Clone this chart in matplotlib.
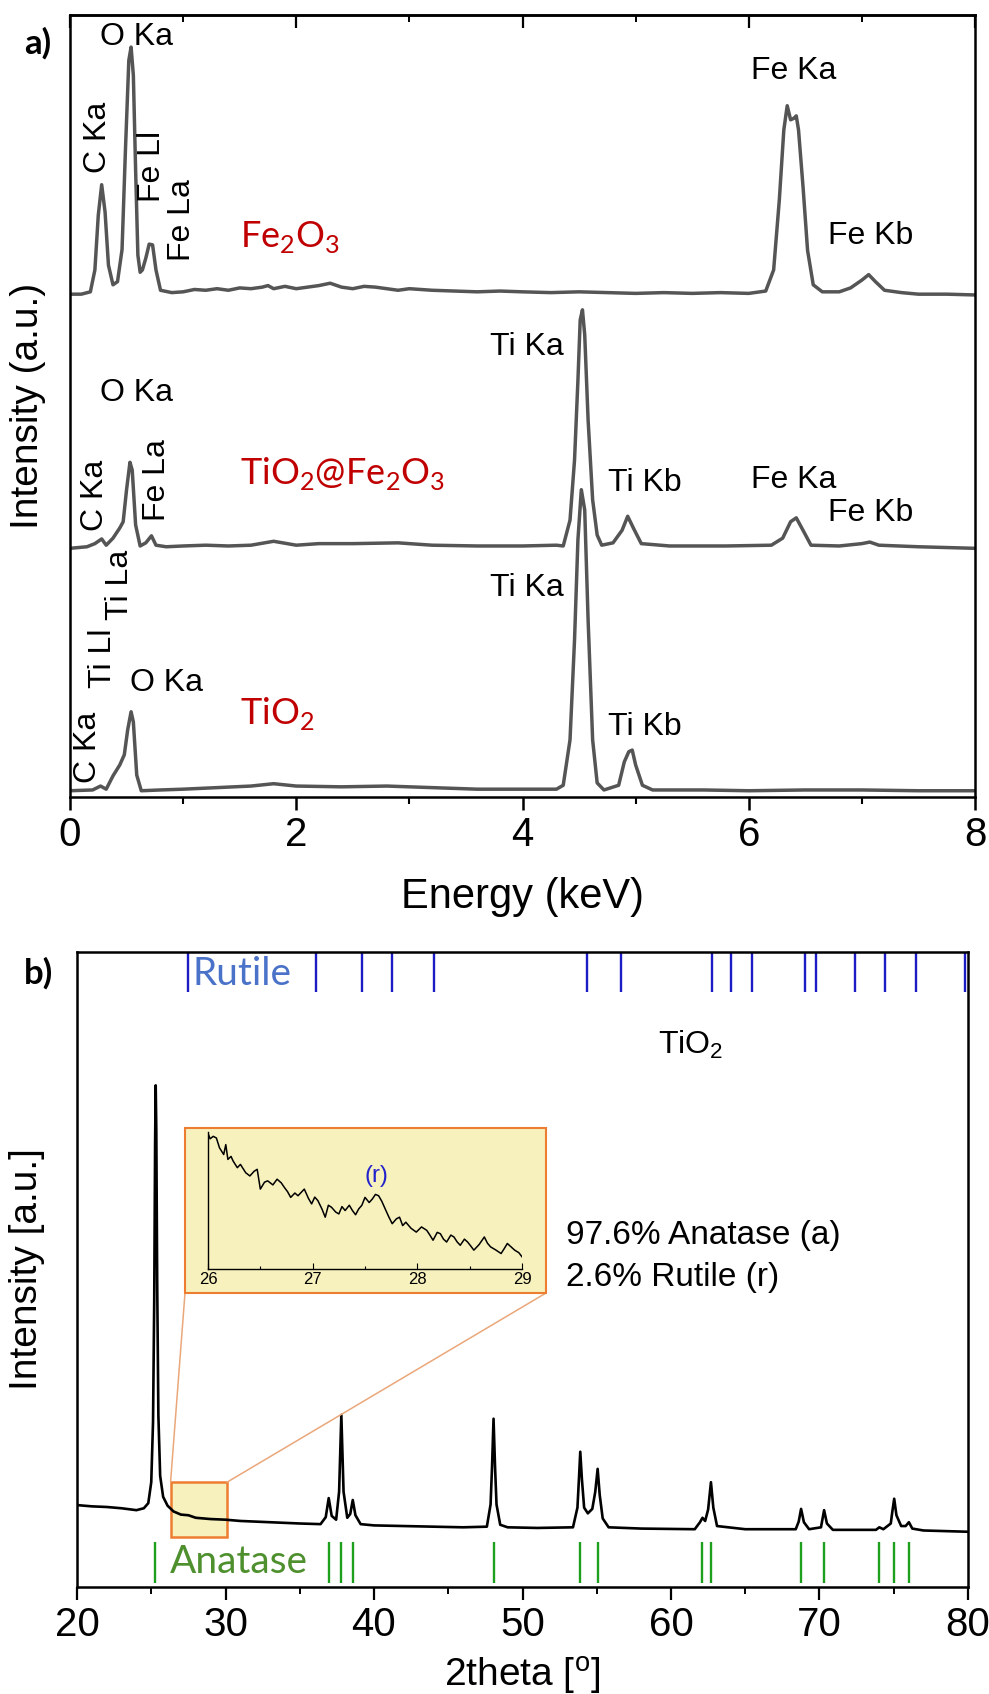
import matplotlib
matplotlib.use('Agg')
import matplotlib.pyplot as plt
from matplotlib.patches import Rectangle, ConnectionPatch
from matplotlib.ticker import MultipleLocator

# ---------------- data : EDS spectra (panel a) ----------------
e_fe2o3 = [0.00, 0.10, 0.18, 0.22, 0.25, 0.28, 0.31, 0.34, 0.38, 0.42, 0.46, 0.49, 0.52, 0.54,
           0.56, 0.58, 0.60, 0.62, 0.64, 0.67, 0.70, 0.73, 0.76, 0.80, 0.90, 1.00, 1.10, 1.20,
           1.30, 1.40, 1.50, 1.60, 1.70, 1.75, 1.80, 1.90, 2.00, 2.10, 2.20, 2.30, 2.40, 2.50,
           2.60, 2.70, 2.80, 2.90, 3.00, 3.20, 3.40, 3.60, 3.80, 4.00, 4.25, 4.50, 4.75, 5.00,
           5.25, 5.50, 5.75, 6.00, 6.15, 6.22, 6.27, 6.31, 6.34, 6.37, 6.40, 6.42, 6.44, 6.48,
           6.52, 6.57, 6.65, 6.80, 6.90, 7.00, 7.06, 7.12, 7.20, 7.35, 7.50, 7.75, 8.00]
i_fe2o3 = [64.3, 64.3, 64.6, 67.4, 74.4, 78.3, 74.8, 68.0, 65.5, 65.9, 70.0, 82.7, 94.2, 95.9,
           92.3, 80.2, 69.3, 67.1, 67.4, 68.9, 70.7, 70.6, 67.4, 64.8, 64.5, 64.6, 64.9, 64.8,
           65.0, 64.8, 65.1, 65.0, 65.2, 65.4, 65.0, 65.3, 65.0, 65.2, 65.4, 65.7, 65.2, 65.0,
           65.3, 65.2, 65.0, 64.8, 65.0, 64.8, 64.7, 64.6, 64.7, 64.6, 64.5, 64.6, 64.5, 64.4,
           64.5, 64.4, 64.5, 64.4, 64.7, 67.4, 76.3, 85.3, 88.4, 86.6, 86.8, 87.1, 85.3, 78.0,
           69.9, 65.5, 64.6, 64.6, 65.1, 66.1, 66.8, 65.9, 64.8, 64.5, 64.3, 64.3, 64.2]

e_mix = [0.00, 0.15, 0.22, 0.28, 0.32, 0.38, 0.44, 0.47, 0.50, 0.53, 0.55, 0.58, 0.62, 0.67,
         0.72, 0.76, 0.85, 1.00, 1.20, 1.40, 1.60, 1.80, 2.00, 2.20, 2.50, 2.90, 3.20, 3.60,
         4.00, 4.30, 4.36, 4.42, 4.46, 4.49, 4.51, 4.53, 4.55, 4.58, 4.62, 4.66, 4.70, 4.80,
         4.88, 4.93, 4.98, 5.05, 5.30, 5.80, 6.20, 6.30, 6.37, 6.42, 6.48, 6.55, 6.80, 7.00,
         7.07, 7.15, 7.50, 8.00]
i_mix = [31.8, 32.0, 32.4, 33.0, 32.2, 33.1, 34.4, 35.2, 39.3, 42.8, 41.8, 34.8, 32.1, 32.5,
         33.4, 32.2, 32.0, 32.1, 32.2, 32.1, 32.2, 32.7, 32.2, 32.4, 32.4, 32.5, 32.2, 32.1,
         32.1, 32.2, 32.1, 35.4, 43.1, 53.3, 61.0, 62.3, 59.1, 48.2, 38.0, 33.5, 32.2, 32.5,
         34.1, 35.9, 34.4, 32.4, 32.1, 32.1, 32.2, 33.1, 35.2, 35.7, 34.1, 32.2, 32.1, 32.4,
         32.6, 32.2, 32.0, 31.8]

e_tio2 = [0.00, 0.20, 0.27, 0.32, 0.38, 0.44, 0.48, 0.51, 0.54, 0.56, 0.59, 0.63, 0.80, 1.00,
          1.30, 1.60, 1.80, 2.00, 2.40, 2.80, 3.20, 3.60, 4.00, 4.30, 4.36, 4.42, 4.46, 4.49,
          4.52, 4.55, 4.58, 4.62, 4.66, 4.72, 4.85, 4.90, 4.94, 4.97, 5.00, 5.06, 5.15, 5.60,
          6.00, 6.50, 7.00, 7.50, 8.00]
i_tio2 = [0.8, 0.9, 1.4, 1.0, 2.7, 4.1, 5.4, 8.6, 10.9, 9.6, 2.8, 0.8, 0.9, 1.0,
          1.2, 1.4, 1.7, 1.4, 1.3, 1.4, 1.2, 1.0, 1.0, 1.0, 1.5, 7.3, 20.1, 32.9,
          39.3, 36.7, 22.6, 7.3, 1.8, 0.9, 1.5, 4.5, 5.8, 6.0, 4.1, 1.5, 0.9, 0.9,
          0.8, 0.9, 0.9, 0.8, 0.8]

# peak labels for panel a
eds_labels = ['O Ka', 'C Ka', 'Fe Ll', 'Fe La', 'Fe Ka', 'Fe Kb',
              'O Ka', 'C Ka', 'Fe La', 'Ti Ka', 'Ti Kb', 'Fe Ka', 'Fe Kb',
              'Ti La', 'Ti Ll', 'O Ka', 'C Ka', 'Ti Ka', 'Ti Kb']
eds_lab_e = [0.59, 0.25, 0.725, 0.99, 6.40, 7.08,
             0.59, 0.22, 0.77, 4.04, 5.08, 6.40, 7.08,
             0.44, 0.29, 0.85, 0.16, 4.04, 5.08]
eds_lab_y = [97.2, 84.4, 80.6, 73.8, 92.8, 71.7,
             51.7, 38.6, 40.5, 57.5, 40.2, 40.5, 36.3,
             27.1, 17.8, 14.6, 6.4, 26.7, 9.0]
eds_lab_rot = [0, 90, 90, 90, 0, 0,
               0, 90, 90, 0, 0, 0, 0,
               90, 90, 0, 90, 0, 0]
sample_names = ['Fe$_\\mathregular{2}$O$_\\mathregular{3}$',
                'TiO$_\\mathregular{2}$@Fe$_\\mathregular{2}$O$_\\mathregular{3}$',
                'TiO$_\\mathregular{2}$']
sample_e = [1.50, 1.50, 1.50]
sample_y = [71.6, 41.4, 10.7]

# ---------------- data : XRD pattern (panel b) ----------------
tt = [20.0, 21.0, 22.0, 23.0, 24.0, 24.5, 24.8, 25.0, 25.12, 25.2, 25.26, 25.3, 25.34, 25.4,
      25.48, 25.6, 25.8, 26.1, 26.5, 27.0, 27.5, 28.0, 29.0, 30.0, 31.0, 33.0, 35.0, 36.4,
      36.75, 36.95, 37.15, 37.45, 37.65, 37.8, 37.95, 38.2, 38.4, 38.57, 38.75, 39.1, 40.0,
      42.0, 44.0, 46.0, 47.6, 47.85, 47.95, 48.05, 48.15, 48.25, 48.5, 49.0, 51.0, 53.4,
      53.7, 53.8, 53.89, 54.0, 54.15, 54.4, 54.7, 54.9, 55.06, 55.2, 55.4, 55.8, 58.0, 61.6,
      61.95, 62.12, 62.3, 62.5, 62.69, 62.85, 63.1, 65.0, 68.4, 68.6, 68.76, 68.95, 69.3,
      70.1, 70.31, 70.5, 70.9, 73.8, 74.03, 74.3, 74.8, 74.9, 75.03, 75.18, 75.5, 75.8,
      76.02, 76.25, 77.0, 80.0]
counts = [12.9, 12.7, 12.6, 12.4, 12.1, 12.4, 13.2, 16.5, 26.0, 45.0, 70.0, 79.0, 72.0, 48.0,
          27.0, 17.5, 14.2, 12.8, 11.9, 11.4, 11.3, 10.9, 10.7, 10.6, 10.4, 10.2, 10.0, 9.9,
          11.0, 14.0, 11.2, 10.6, 15.0, 27.1, 15.0, 10.9, 11.5, 13.7, 11.3, 9.9, 9.7,
          9.6, 9.5, 9.4, 9.5, 13.0, 19.0, 26.5, 19.0, 13.0, 9.8, 9.4, 9.3, 9.4,
          12.5, 17.0, 21.3, 17.0, 12.5, 11.6, 12.3, 15.0, 18.6, 14.5, 10.8, 9.4, 9.2, 9.1,
          10.2, 10.9, 10.4, 12.2, 16.5, 12.5, 9.6, 9.1, 9.1, 10.3, 12.3, 10.2, 9.1,
          9.4, 12.1, 10.0, 9.0, 9.0, 9.4, 9.1, 10.0, 11.8, 13.9, 11.3, 9.6, 9.6,
          10.2, 9.2, 8.9, 8.7]

rutile_pos = [27.45, 36.09, 39.19, 41.23, 44.05, 54.32, 56.64, 62.74, 64.04, 65.48,
              69.01, 69.79, 72.41, 74.41, 76.51, 79.82]
anatase_pos = [25.28, 36.95, 37.80, 38.57, 48.05, 53.89, 55.06, 62.12, 62.69, 68.76,
               70.31, 74.03, 75.03, 76.02]

# zoomed region (inset)
tt_zoom = [26.00, 26.02, 26.05, 26.08, 26.11, 26.15, 26.17, 26.19, 26.22, 26.24, 26.28, 26.31,
           26.36, 26.40, 26.44, 26.47, 26.50, 26.54, 26.57, 26.62, 26.66, 26.70, 26.73, 26.76,
           26.79, 26.83, 26.86, 26.92, 26.96, 26.99, 27.02, 27.05, 27.09, 27.12, 27.15, 27.18,
           27.22, 27.25, 27.28, 27.31, 27.35, 27.38, 27.41, 27.44, 27.47, 27.50, 27.54, 27.57,
           27.60, 27.63, 27.66, 27.70, 27.73, 27.76, 27.80, 27.83, 27.86, 27.89, 27.94, 27.99,
           28.04, 28.09, 28.12, 28.15, 28.19, 28.22, 28.25, 28.28, 28.32, 28.35, 28.38, 28.41,
           28.45, 28.48, 28.51, 28.54, 28.59, 28.64, 28.67, 28.70, 28.75, 28.80, 28.83, 28.86,
           28.90, 28.93, 28.97, 29.00]
counts_zoom = [100.0, 96.0, 97.8, 96.6, 89.3, 84.4, 91.7, 80.8, 83.0, 79.6, 74.7, 77.1,
               71.0, 68.6, 72.0, 73.5, 58.9, 64.0, 65.0, 62.0, 66.2, 63.5, 60.1, 57.0,
               52.8, 56.0, 54.0, 58.9, 52.0, 48.0, 53.0, 50.4, 44.0, 38.2, 47.0, 45.5,
               42.0, 40.6, 46.0, 43.1, 47.0, 43.1, 40.0, 44.3, 47.0, 52.8, 49.0, 51.6,
               55.0, 54.0, 50.0, 43.1, 38.0, 33.4, 37.0, 38.2, 32.0, 34.5, 30.0, 27.2,
               31.0, 28.5, 25.0, 21.2, 27.0, 26.0, 22.0, 19.9, 25.0, 23.6, 20.0, 17.5,
               22.0, 19.9, 17.0, 13.9, 18.0, 23.6, 19.0, 16.3, 14.0, 11.4, 15.0, 18.8,
               16.0, 13.9, 12.0, 9.0]
zoom_box_x = [26.3, 30.1]
zoom_box_y = [7.9, 16.5]
inset_ticks = [26, 27, 28, 29]

# ---------------- figure ----------------
W, H, DPI = 989, 1694, 100
fig = plt.figure(figsize=(W / DPI, H / DPI), dpi=DPI)

SANS = ['Liberation Sans', 'DejaVu Sans']
NARROW = ['Liberation Sans Narrow', 'Liberation Sans', 'DejaVu Sans']
CAL = ['Lato', 'DejaVu Sans']

def axrect(l, r, t, b):
    return [l / W, 1 - b / H, (r - l) / W, (b - t) / H]

# ======== panel a ========
ax1 = fig.add_axes(axrect(70, 975, 15, 797))
col = '#555555'
ax1.plot(e_fe2o3, i_fe2o3, color=col, lw=2.5, solid_joinstyle='round')
ax1.plot(e_mix, i_mix, color=col, lw=2.5, solid_joinstyle='round')
ax1.plot(e_tio2, i_tio2, color=col, lw=2.5, solid_joinstyle='round')
ax1.set_xlim(0, 8)
ax1.set_ylim(0, 100)
ax1.set_yticks([])
ax1.xaxis.set_major_locator(MultipleLocator(2))
ax1.xaxis.set_minor_locator(MultipleLocator(1))
ax1.tick_params(axis='x', which='major', direction='out', length=9, width=1.8, pad=5)
ax1.tick_params(axis='x', which='minor', direction='out', length=5, width=1.5)
for lab in ax1.get_xticklabels():
    lab.set_fontfamily(NARROW)
    lab.set_fontsize(29)
for s in ax1.spines.values():
    s.set_linewidth(1.8)
sec = ax1.secondary_xaxis('top')
sec.xaxis.set_major_locator(MultipleLocator(2))
sec.xaxis.set_minor_locator(MultipleLocator(1))
sec.tick_params(axis='x', which='major', direction='in', length=9, width=1.6, labeltop=False)
sec.tick_params(axis='x', which='minor', direction='in', length=5, width=1.4)
sec.spines['top'].set_linewidth(1.8)

ax1.set_xlabel('Energy (keV)', fontfamily=NARROW, fontsize=30)
ax1.xaxis.label.set_va('center')
ax1.xaxis.set_label_coords(0.5, (797 - 897) / 782)
ax1.set_ylabel('Intensity (a.u.)', fontfamily=SANS, fontsize=28)
ax1.yaxis.label.set_va('center')
ax1.yaxis.set_label_coords((28 - 70) / 905, 0.5)

for t, x, y, r in zip(eds_labels, eds_lab_e, eds_lab_y, eds_lab_rot):
    ax1.text(x, y, t, fontsize=23, fontfamily=SANS, rotation=r,
             ha='center', va='center', color='black')
for t, x, y in zip(sample_names, sample_e, sample_y):
    ax1.text(x, y, t, fontsize=26, fontfamily=CAL, color='#C00000',
             ha='left', va='center')

fig.text(38 / W, 1 - 43 / H, 'a)', fontsize=25, fontweight='bold', fontfamily=CAL,
         ha='center', va='center')

# ======== panel b ========
ax2 = fig.add_axes(axrect(77, 968, 952, 1587))
ax2.plot(tt, counts, color='black', lw=1.9, zorder=3, solid_joinstyle='round')
ax2.set_xlim(20, 80)
ax2.set_ylim(0, 100)
ax2.set_yticks([])
ax2.xaxis.set_major_locator(MultipleLocator(10))
ax2.xaxis.set_minor_locator(MultipleLocator(5))
ax2.tick_params(axis='x', which='major', direction='out', length=9, width=1.6, pad=5)
ax2.tick_params(axis='x', which='minor', direction='out', length=5, width=1.4)
for lab in ax2.get_xticklabels():
    lab.set_fontfamily(NARROW)
    lab.set_fontsize(29)
for s in ax2.spines.values():
    s.set_linewidth(1.8)

ax2.vlines(rutile_pos, 93.7, 100, color='#1c1cc4', lw=1.7, zorder=2)
ax2.vlines(anatase_pos, 0.6, 7.1, color='#1ea01e', lw=1.7, zorder=2)
ax2.text(27.75, 96.6, 'Rutile', color='#4a72c8', fontsize=28, fontfamily=CAL,
         ha='left', va='center')
ax2.text(26.25, 3.9, 'Anatase', color='#4e8f2e', fontsize=28, fontfamily=CAL,
         ha='left', va='center')
ax2.text(61.3, 85.4, 'TiO$_\\mathregular{2}$', fontsize=23, fontfamily=SANS,
         ha='center', va='center')
ax2.text(52.9, 55.4, '97.6% Anatase (a)', fontsize=24, fontfamily=SANS,
         ha='left', va='center')
ax2.text(52.9, 48.8, '2.6% Rutile (r)', fontsize=24, fontfamily=SANS,
         ha='left', va='center')

ax2.set_xlabel('2theta [$^\\mathregular{o}$]', fontfamily=NARROW, fontsize=28)
ax2.xaxis.label.set_va('baseline')
ax2.xaxis.set_label_coords(0.5, (1587 - 1687) / 635)
ax2.set_ylabel('Intensity [a.u.]', fontfamily=SANS, fontsize=28)
ax2.yaxis.label.set_va('center')
ax2.yaxis.set_label_coords((27 - 77) / 891, 0.5)

# small zoom box on the pattern
ax2.add_patch(Rectangle((zoom_box_x[0], zoom_box_y[0]), zoom_box_x[1] - zoom_box_x[0],
                        zoom_box_y[1] - zoom_box_y[0], facecolor='#f7f1be',
                        edgecolor='#ed7d31', lw=1.8, zorder=1))

# big inset background box (figure coordinates)
box_l, box_r, box_t, box_b = 185, 546, 1128, 1293
fig.add_artist(Rectangle((box_l / W, 1 - box_b / H), (box_r - box_l) / W, (box_b - box_t) / H,
                         transform=fig.transFigure, facecolor='#f7f1be',
                         edgecolor='#ed7d31', lw=1.5, zorder=5))

for xa, xb in [(zoom_box_x[0], box_l), (zoom_box_x[1], box_r)]:
    cp = ConnectionPatch(xyA=(xa, zoom_box_y[1]), coordsA=ax2.transData,
                         xyB=(xb / W, 1 - box_b / H), coordsB=fig.transFigure,
                         color='#eaa77a', lw=1.1, zorder=4)
    fig.add_artist(cp)

axi = fig.add_axes(axrect(208, 522, 1132, 1269))
axi.set_zorder(6)
axi.patch.set_alpha(0)
axi.plot(tt_zoom, counts_zoom, color='black', lw=1.1)
axi.set_xlim(26, 29)
axi.set_ylim(0, 101)
axi.set_yticks([])
axi.set_xticks(inset_ticks)
axi.xaxis.set_minor_locator(MultipleLocator(0.5))
axi.tick_params(axis='x', which='major', direction='in', length=4, width=0.8, pad=2,
                labelsize=12)
axi.tick_params(axis='x', which='minor', direction='in', length=2.5, width=0.8)
for lab in axi.get_xticklabels():
    lab.set_fontfamily(SANS)
axi.spines['top'].set_visible(False)
axi.spines['right'].set_visible(False)
axi.spines['left'].set_linewidth(1.0)
axi.spines['bottom'].set_linewidth(1.0)
axi.text(27.61, 68.6, '(r)', color='#2222cc', fontsize=17, fontfamily=SANS,
         ha='center', va='center')

fig.text(38 / W, 1 - 973 / H, 'b)', fontsize=25, fontweight='bold', fontfamily=CAL,
         ha='center', va='center')

fig.savefig('out.png', dpi=DPI)
